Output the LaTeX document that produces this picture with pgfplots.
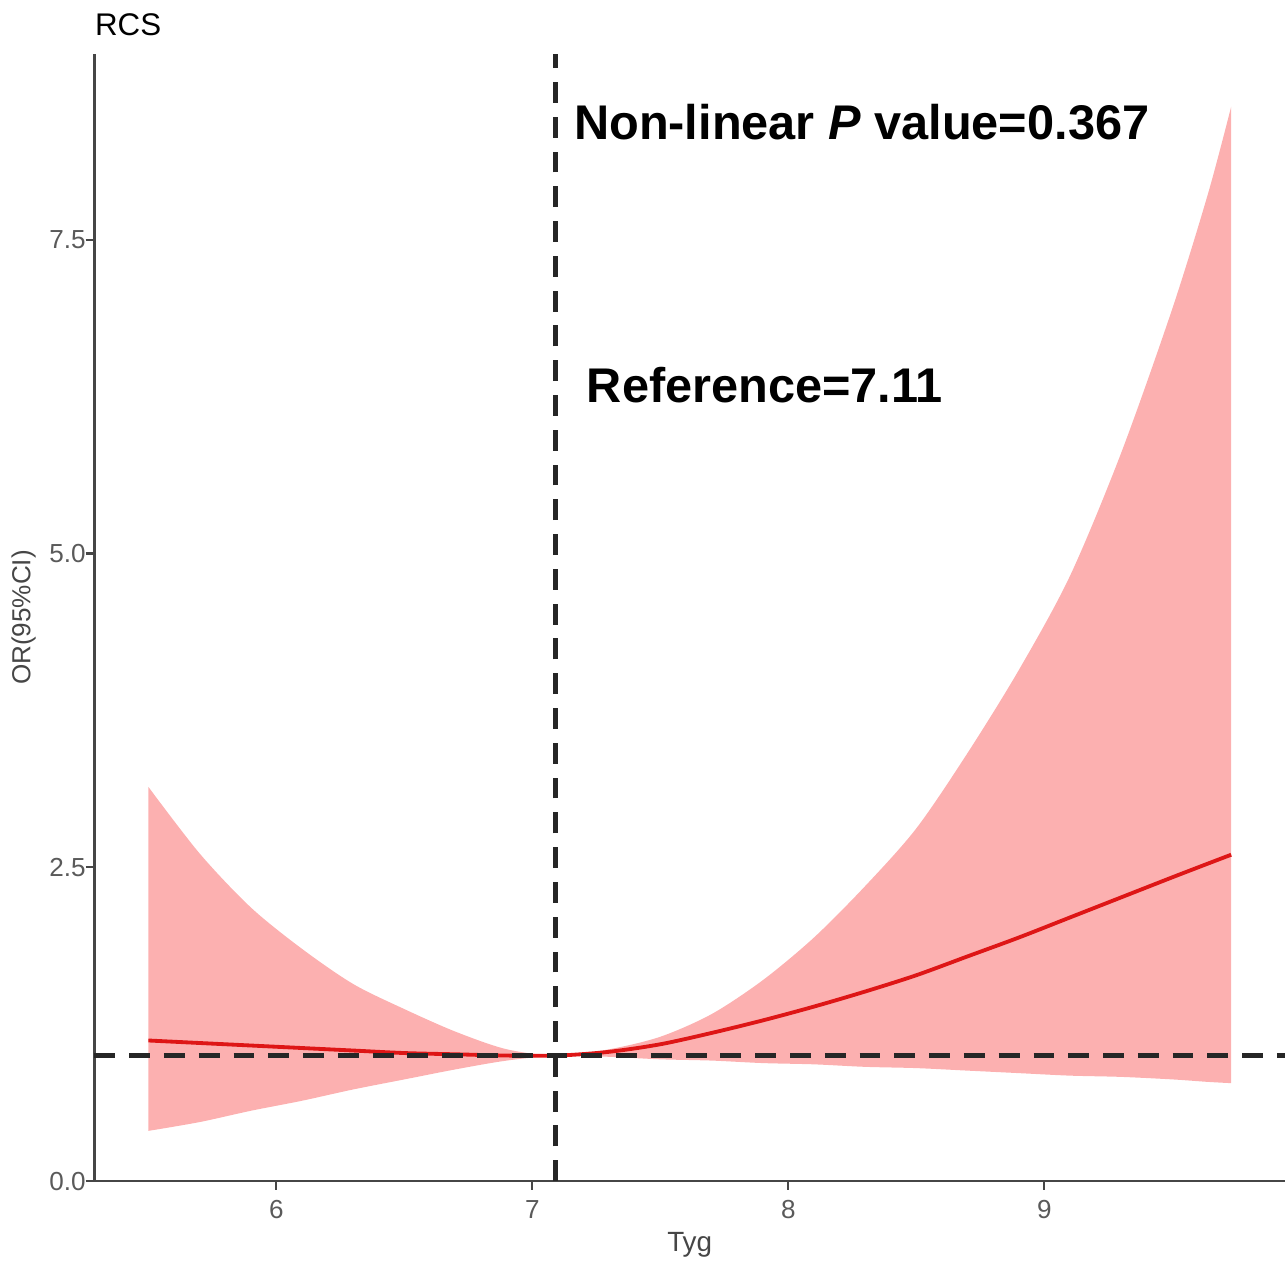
\documentclass[border=0pt]{standalone}
\usepackage{pgfplots}
\pgfplotsset{compat=1.18}
\usepgfplotslibrary{fillbetween}
\usepackage{fontspec}
\setmainfont{Liberation Sans}

\definecolor{bandfill}{RGB}{252,176,176}
\definecolor{fitline}{RGB}{222,22,22}
\definecolor{axisgray}{RGB}{70,70,70}
\definecolor{ticktext}{RGB}{90,90,90}

% x, fitted OR, lower and upper 95% CI
\pgfplotstableread{
x     or    lo    hi
5.50  1.12  0.40  3.14
5.70  1.10  0.47  2.61
5.90  1.08  0.56  2.18
6.10  1.06  0.64  1.85
6.30  1.04  0.73  1.57
6.50  1.02  0.81  1.37
6.70  1.01  0.89  1.19
6.90  1.00  0.96  1.05
7.10  1.00  1.00  1.00
7.30  1.03  0.99  1.05
7.50  1.09  0.97  1.15
7.70  1.18  0.96  1.33
7.90  1.28  0.94  1.60
8.10  1.39  0.93  1.94
8.30  1.51  0.91  2.35
8.50  1.64  0.90  2.81
8.70  1.79  0.88  3.41
8.90  1.94  0.86  4.07
9.10  2.10  0.84  4.82
9.30  2.26  0.83  5.80
9.50  2.42  0.81  6.95
9.64  2.53  0.79  7.87
9.73  2.60  0.78  8.56
}\rcs

\begin{document}
\begin{tikzpicture}
\begin{axis}[
    scale only axis,
    width=12.03cm, height=11.39cm,
    xmin=5.289, xmax=9.94,
    ymin=0, ymax=8.98,
    axis x line*=bottom, axis y line*=left,
    axis line style={-, axisgray, line width=0.8pt},
    tick style={axisgray, line width=0.6pt},
    tick align=outside,
    major tick length=2.5pt,
    xtick={6,7,8,9},
    ytick={0,2.5,5,7.5},
    /pgf/number format/assume math mode=true,
    ticklabel style={font=\fontsize{7.5}{9}\selectfont, text=ticktext},
    yticklabel style={/pgf/number format/.cd, fixed, fixed zerofill, precision=1, /tikz/xshift=3.5pt},
    xticklabel style={yshift=0.5pt},
    xlabel={Tyg},
    ylabel={OR(95\%CI)},
    xlabel style={font=\fontsize{8}{9}\selectfont, text=axisgray, yshift=3pt},
    ylabel style={font=\fontsize{7.5}{9}\selectfont, text=axisgray, yshift=-3pt},
    clip=false,
]
\addplot[name path=upper, draw=none, smooth, forget plot] table[x=x, y=hi] {\rcs};
\addplot[name path=lower, draw=none, smooth, forget plot] table[x=x, y=lo] {\rcs};
\addplot[bandfill, draw=none] fill between[of=upper and lower];
\addplot[fitline, line width=1.1pt, smooth] table[x=x, y=or] {\rcs};

\addplot[black!85, line width=1.2pt, dash pattern=on 6pt off 4pt] coordinates {(5.289,1) (9.94,1)};
\addplot[black!85, line width=1.2pt, dash pattern=on 6pt off 4pt] coordinates {(7.09,0) (7.09,8.98)};

\node[anchor=west, font=\fontsize{14}{16}\selectfont\bfseries] at (axis cs:7.115,8.44) {Non-linear \textit{P} value=0.367};
\node[anchor=west, font=\fontsize{14}{16}\selectfont\bfseries] at (axis cs:7.165,6.34) {Reference=7.11};
\node[anchor=south west, font=\fontsize{9}{10}\selectfont, inner sep=0pt] at ([yshift=5pt]rel axis cs:0,1) {RCS};
\path ([yshift=15.5pt]rel axis cs:0,1) coordinate (topspace);
\end{axis}
\end{tikzpicture}
\end{document}
